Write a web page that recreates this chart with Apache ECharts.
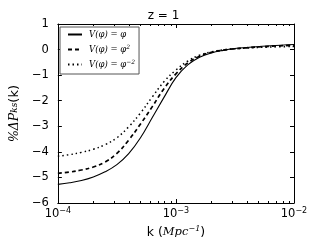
<!DOCTYPE html>
<html><head><meta charset="utf-8">
<script src="https://cdn.jsdelivr.net/npm/echarts@6/dist/echarts.min.js"></script>
<style>html,body{margin:0;padding:0;background:#fff}#c{width:327px;height:245px}</style>
</head><body><div id="c"></div>
<script>
// log10 of k (Mpc^-1)
const logK = [-4.0,-3.9,-3.8,-3.7,-3.6,-3.5,-3.4,-3.3,-3.2,-3.1,-3.0,-2.9,-2.8,-2.7,-2.6,-2.5,-2.4,-2.2,-2.0];
// % Delta P_ks(k)
const vPhi   = [-5.27,-5.21,-5.12,-4.98,-4.78,-4.50,-4.07,-3.45,-2.66,-1.86,-1.10,-0.60,-0.30,-0.13,-0.03,0.04,0.08,0.15,0.20];
const vPhi2  = [-4.84,-4.79,-4.71,-4.59,-4.40,-4.06,-3.54,-2.91,-2.23,-1.52,-0.95,-0.52,-0.26,-0.11,-0.02,0.03,0.07,0.13,0.17];
const vPhiM2 = [-4.17,-4.11,-4.02,-3.90,-3.72,-3.45,-3.02,-2.48,-1.85,-1.25,-0.80,-0.45,-0.22,-0.09,-0.01,0.03,0.06,0.10,0.12];
const seriesNames = ['V(φ)=φ','V(φ)=φ²','V(φ)=φ⁻²'];
const xTickExps = [-4,-3,-2];
const yTickVals = [-6,-5,-4,-3,-2,-1,0,1];
const minorMult = [2,3,4,5,6,7,8,9];
const minorDecades = [-4,-3];

const minorPos = [];
minorDecades.forEach(d => minorMult.forEach(m => minorPos.push([d + Math.log10(m), 0])));

const pair = arr => logK.map((x, i) => [x, arr[i]]);
const font = 'DejaVu Sans';
const fmtExp = n => (n < 0 ? '−' + (-n) : '' + n);

const chart = echarts.init(document.getElementById('c'), null, {renderer: 'canvas'});
const axisCommon = {
  axisLine: {show: true, onZero: false, lineStyle: {color: '#000', width: 1}},
  axisTick: {show: true, inside: true, length: 4, lineStyle: {color: '#000', width: 1}},
  splitLine: {show: false}
};
chart.setOption({
  animation: false,
  backgroundColor: '#fff',
  title: {
    text: 'z = 1', left: 'center', top: 10,
    textStyle: {fontFamily: font, fontSize: 12, fontWeight: 'normal', color: '#000'},
    padding: 0
  },
  grid: {left: 55, right: 33, top: 24, bottom: 42},
  legend: {
    orient: 'vertical', left: 60, top: 27,
    data: seriesNames,
    itemWidth: 14, itemHeight: 10, itemGap: 5,
    padding: [3, 4, 5, 7],
    borderColor: '#555', borderWidth: 1, borderRadius: 0,
    backgroundColor: '#fff',
    itemStyle: {opacity: 0},
    formatter: name => {
      const i = seriesNames.indexOf(name);
      if (i === 0) return '{t|V(φ) = φ}';
      if (i === 1) return '{t|V(φ) = φ}{s|2}';
      return '{t|V(φ) = φ}{s|−2}';
    },
    textStyle: {
      color: '#000', padding: [0, 0, 0, 2],
      rich: {
        t: {fontFamily: 'DejaVu Serif', fontStyle: 'italic', fontSize: 8.5, color: '#000'},
        s: {fontFamily: 'DejaVu Serif', fontStyle: 'italic', fontSize: 6, color: '#000', padding: [0, 0, 5, 0]}
      }
    }
  },
  xAxis: [
    Object.assign({}, axisCommon, {
      type: 'value', min: -4, max: -2, interval: 1, position: 'bottom',
      axisLabel: {
        margin: 4, color: '#000',
        formatter: v => '{b|10}{s|' + fmtExp(v) + '}',
        rich: {
          b: {fontFamily: font, fontSize: 11.5, color: '#000'},
          s: {fontFamily: font, fontSize: 8, color: '#000', padding: [0, 0, 6, 0]}
        }
      },
      name: '{a|k (}{i|Mpc}{s|−1}{a|)}', nameLocation: 'middle', nameGap: 15,
      nameTextStyle: {
        rich: {
          a: {fontFamily: font, fontSize: 12.5, color: '#000'},
          i: {fontFamily: 'DejaVu Serif', fontStyle: 'italic', fontSize: 11.5, color: '#000'},
          s: {fontFamily: 'DejaVu Serif', fontStyle: 'italic', fontSize: 8, color: '#000', padding: [0, 0, 7, 0]}
        }
      }
    }),
    Object.assign({}, axisCommon, {
      type: 'value', min: -4, max: -2, interval: 1, position: 'top',
      axisLabel: {show: false}
    })
  ],
  yAxis: [
    Object.assign({}, axisCommon, {
      type: 'value', min: -6, max: 1, interval: 1, position: 'left',
      axisLabel: {
        margin: 9, color: '#000', fontFamily: font, fontSize: 11.5,
        formatter: v => (v < 0 ? '−' + (-v) : '' + v)
      },
      name: '{a|%ΔP}{s|ks}{b|(k)}', nameLocation: 'middle', nameGap: 22,
      nameTextStyle: {
        rich: {
          a: {fontFamily: 'DejaVu Serif', fontStyle: 'italic', fontSize: 12.5, color: '#000'},
          s: {fontFamily: 'DejaVu Serif', fontStyle: 'italic', fontSize: 9, color: '#000'},
          b: {fontFamily: font, fontSize: 13, color: '#000'}
        }
      }
    }),
    Object.assign({}, axisCommon, {
      type: 'value', min: -6, max: 1, interval: 1, position: 'right',
      axisLabel: {show: false}
    })
  ],
  series: [
    {
      name: seriesNames[0], type: 'line', data: pair(vPhi), smooth: 0.4, symbol: 'none',
      lineStyle: {color: '#000', width: 1.1, type: 'solid'}, itemStyle: {color: '#000'}
    },
    {
      name: seriesNames[1], type: 'line', data: pair(vPhi2), smooth: 0.4, symbol: 'none',
      lineStyle: {color: '#000', width: 1.7, type: [4, 3]}, itemStyle: {color: '#000'}
    },
    {
      name: seriesNames[2], type: 'line', data: pair(vPhiM2), smooth: 0.4, symbol: 'none',
      lineStyle: {color: '#000', width: 1.5, type: [1.5, 3]}, itemStyle: {color: '#000'}
    },
    {
      type: 'custom', data: minorPos, silent: true, clip: false, z: 5,
      renderItem: (params, api) => {
        const x = api.value(0);
        const b = api.coord([x, -6]);
        const t = api.coord([x, 1]);
        const px = Math.round(b[0]) + 0.5;
        return {type: 'group', children: [
          {type: 'line', shape: {x1: px, y1: b[1], x2: px, y2: b[1] - 2}, style: {stroke: '#000', lineWidth: 1}},
          {type: 'line', shape: {x1: px, y1: t[1], x2: px, y2: t[1] + 2}, style: {stroke: '#000', lineWidth: 1}}
        ]};
      }
    }
  ]
});
</script></body></html>
